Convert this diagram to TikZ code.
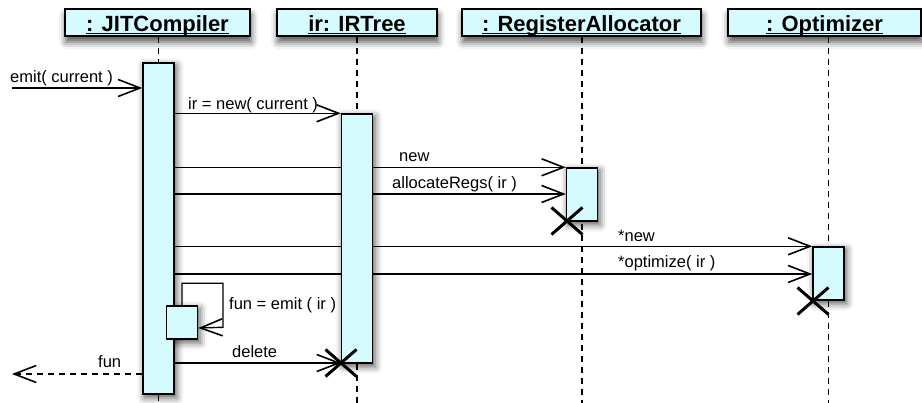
\documentclass[tikz,border=0pt]{standalone}
\usepackage{fontspec}
\setmainfont{Liberation Sans}
\usetikzlibrary{arrows.meta,shadows.blur,shapes.misc}
\definecolor{lifefill}{RGB}{214,251,255}
% underlined object name: the rule sits just under the baseline
\newcommand\hdrtext[1]{\setbox0\hbox{#1}\rlap{\rule[-2.6pt]{\wd0}{1.5pt}}\box0}
\pgfdeclarelayer{shade}
\pgfdeclarelayer{wires}
\pgfsetlayers{shade,wires,main}

\begin{document}
\begin{tikzpicture}[x=1pt,y=-1pt,
  header/.style={draw, line width=1.5pt, fill=lifefill, minimum height=27pt,
    inner sep=0pt, text height=18pt, text depth=0pt,
    font=\fontsize{22}{26}\selectfont\bfseries,
    blur shadow={shadow xshift=1pt, shadow yshift=-6pt, shadow blur radius=7pt, shadow opacity=70}},
  actbar/.style={draw, line width=1.4pt, fill=lifefill, inner sep=0pt, minimum width=31pt},
  barshade/.style={blur shadow={shadow xshift=2pt, shadow yshift=-3pt, shadow blur radius=7pt, shadow opacity=65}},
  lifeline/.style={line width=1.4pt, dash pattern=on 6pt off 5pt},
  msg/.style={line width=1.4pt, -{Straight Barb[length=22pt,width=17pt,line width=1.6pt]}},
  reply/.style={msg, dash pattern=on 6pt off 5pt},
  lbl/.style={anchor=base west, inner sep=0pt, font=\fontsize{16.5}{19}\selectfont},
  killx/.style={cross out, draw, line width=3pt, minimum width=28pt, minimum height=24pt, inner sep=0pt},
]
\useasboundingbox (0,0) rectangle (922,403);

% object headers
\node[header, minimum width=185pt] (jit) at (157.5,22.5) {\hdrtext{: JITCompiler}};
\node[header, minimum width=160pt] (ir)  at (357,22.5)   {\hdrtext{ir: IRTree}};
\node[header, minimum width=239pt] (ra)  at (581.5,22.5) {\hdrtext{: RegisterAllocator}};
\node[header, minimum width=193pt] (opt) at (824.5,22.5) {\hdrtext{: Optimizer}};

\coordinate (bottom) at (0,403);
\coordinate (emitsrc) at (12,88);
\coordinate (funend) at (12,374);
\coordinate (allocy) at (0,194);
\coordinate (opty) at (0,274);

% activation bars
\node[actbar, minimum height=331pt] (jitbar) at (158.5,228.5) {};
\node[actbar, minimum height=249pt] (irbar)  at (357,238.5) {};
\node[actbar, minimum height=53pt]  (rabar)  at (582,194.5) {};
\node[actbar, minimum height=53pt]  (optbar) at (828.5,273.5) {};
\node[actbar, minimum height=33pt]  (selfbox) at (182,322.5) {};

% destruction marks
\node[killx] (irx)  at (341,363) {};
\node[killx] (rax)  at (567,221) {};
\node[killx] (optx) at (813,301) {};

\begin{pgfonlayer}{shade}
  \foreach \b in {jitbar,irbar,rabar,optbar,selfbox}
    \path[barshade] (\b.south west) rectangle (\b.north east);
\end{pgfonlayer}

% lifelines and messages: above the shadows, below the bars
\begin{pgfonlayer}{wires}
  \draw[lifeline] (jit.south -| jitbar) -- (jitbar.north);
  \draw[lifeline] (jitbar.south) -- (jitbar |- bottom);
  \draw[lifeline] (ir.south -| irbar) -- (irbar.north);
  \draw[lifeline] (irbar.south) -- (irbar |- bottom);
  \draw[lifeline] (ra.south -| rabar) -- (rabar |- bottom);
  \draw[lifeline] (opt.south -| optbar) -- (optbar |- bottom);

  \draw[msg] (emitsrc) -- (jitbar.west |- emitsrc);
  \draw[msg] (jitbar.east |- irbar.north) -- (irbar.north west);
  \draw[msg] (jitbar.east |- rabar.north) -- (rabar.north west);
  \draw[msg] (jitbar.east |- allocy) -- (rabar.west |- allocy);
  \draw[msg] (jitbar.east |- optbar.north) -- (optbar.north west);
  \draw[msg] (jitbar.east |- opty) -- (optbar.west |- opty);
  \draw[msg] (jitbar.east |- irx) -- (irx.center);
  \draw[reply] (jitbar.west |- funend) -- (funend);
\end{pgfonlayer}

% self call
\draw[msg] (selfbox.north) -- ++(0,-22) -- ++(41,0) -- ++(0,44) -- (selfbox.east |- 0,328);

% message labels
\node[lbl] (lemit)  at (10,83)   {emit( current )};
\node[lbl] (lnew)   at (188,110) {ir = new( current )};
\node[lbl] (lranew) at (399,162) {new};
\node[lbl] (lalloc) at (392,189) {allocateRegs( ir )};
\node[lbl] (lonew)  at (618,242) {*new};
\node[lbl] (lopt)   at (618,268) {*optimize( ir )};
\node[lbl] (lself)  at (229,310) {fun = emit ( ir )};
\node[lbl] (ldel)   at (232,358) {delete};
\node[lbl] (lfun)   at (98,368)  {fun};
\end{tikzpicture}
\end{document}
